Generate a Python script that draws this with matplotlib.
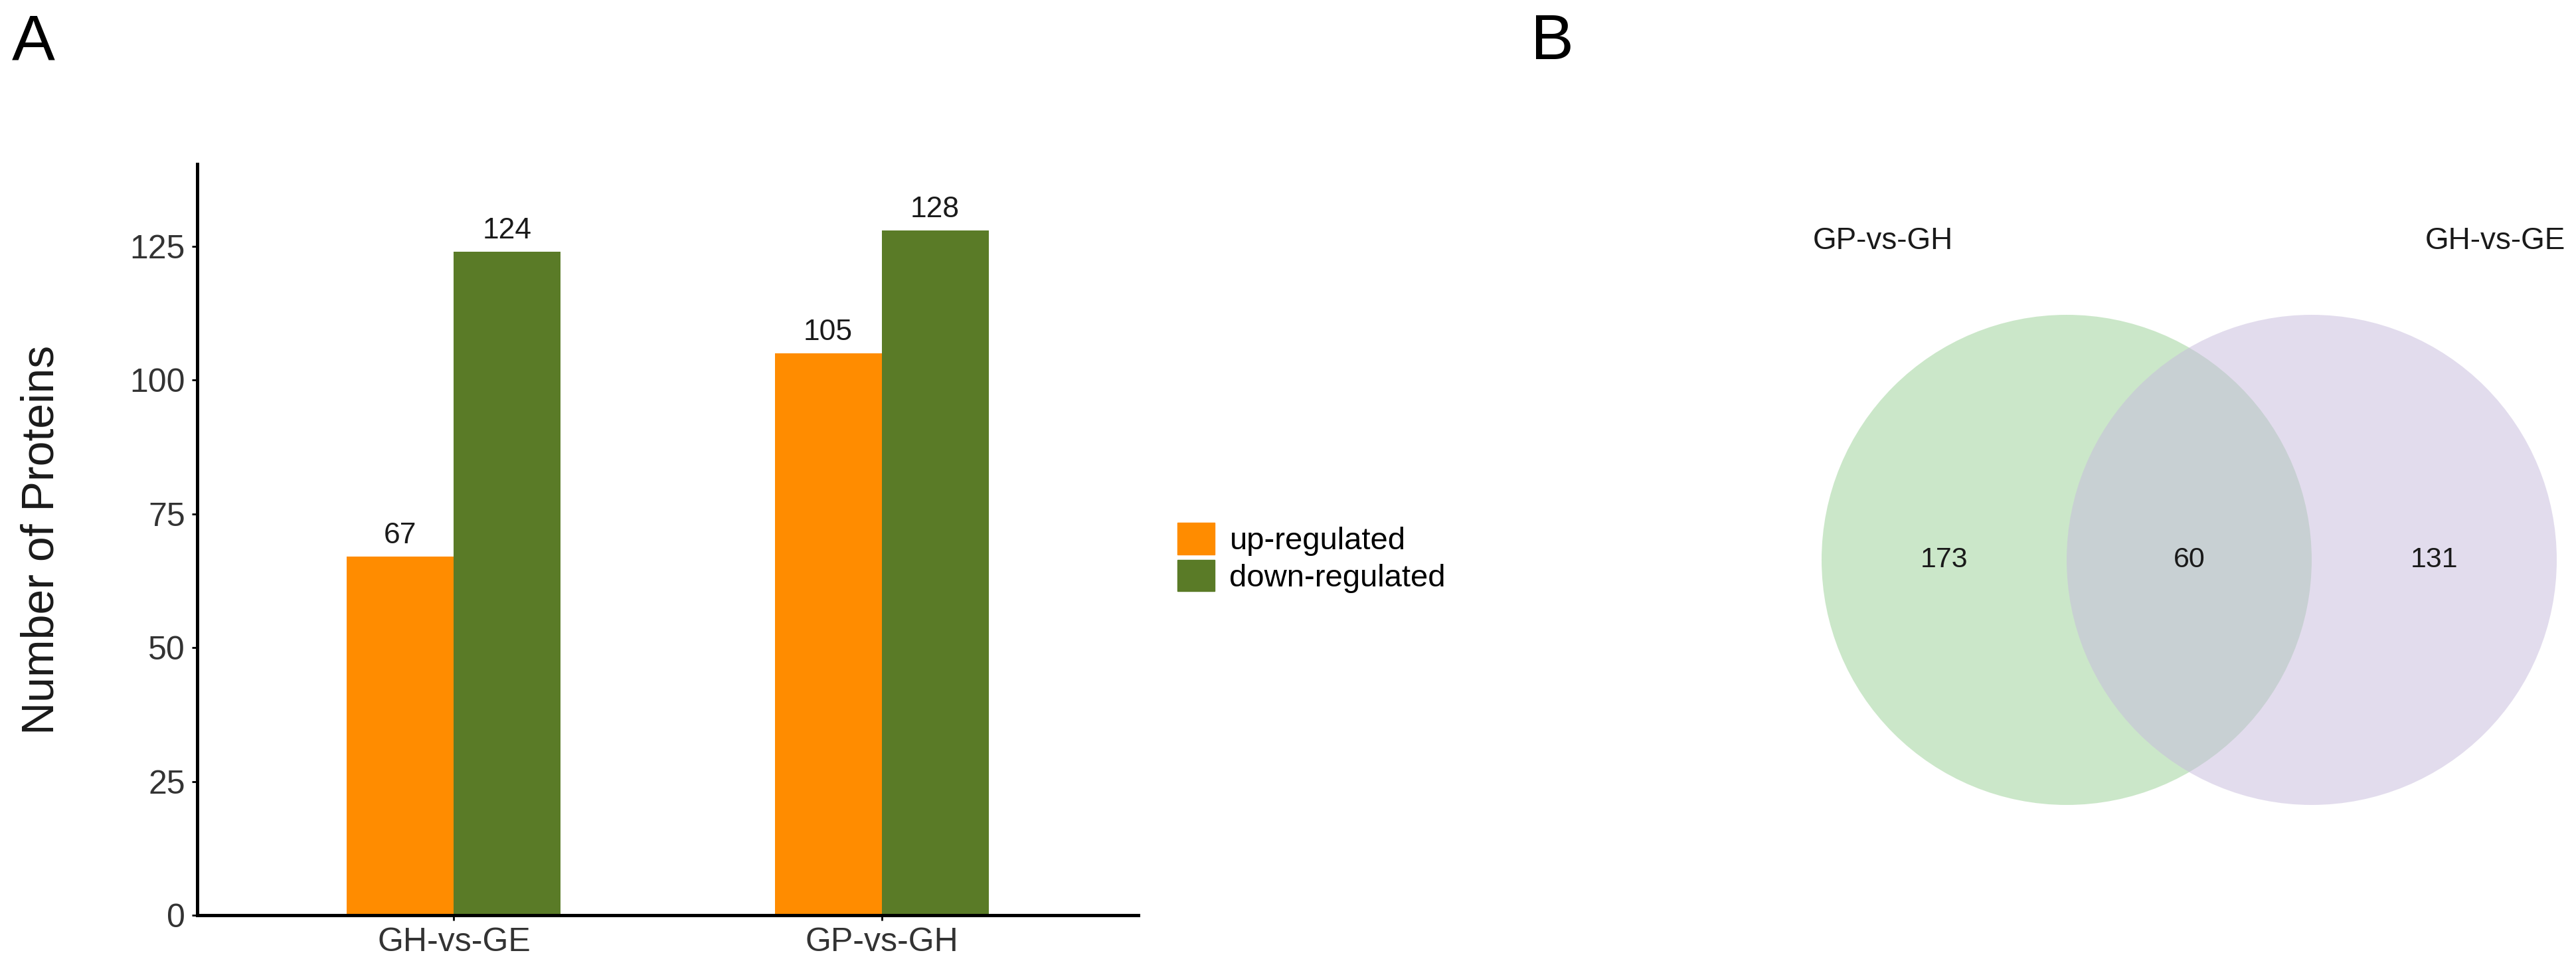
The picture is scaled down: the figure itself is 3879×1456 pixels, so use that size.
import matplotlib
matplotlib.use("Agg")
import matplotlib.pyplot as plt
import numpy as np
from matplotlib.patches import Circle, Patch

plt.rcParams['font.family'] = ['Liberation Sans', 'DejaVu Sans']

# data
comparisons = ['GH-vs-GE', 'GP-vs-GH']
up_counts = [67, 105]
down_counts = [124, 128]
yticks = [0, 25, 50, 75, 100, 125]

venn_sets = ['GP-vs-GH', 'GH-vs-GE']
venn_counts = [173, 60, 131]  # only left, both, only right

up_color = '#FF8C00'
down_color = '#5A7B27'
venn_colors = ['#99D195', '#C7BBDD']

W, H = 3879, 1456
fig = plt.figure(figsize=(W / 100, H / 100), dpi=100)

# ---- panel A: bar chart ----
ax = fig.add_axes([297 / W, 78 / H, (1714 - 297) / W, (1378 - 247) / H])
x = np.arange(1, len(comparisons) + 1)
bw = 0.25
b1 = ax.bar(x - bw / 2, up_counts, bw, color=up_color, label='up-regulated')
b2 = ax.bar(x + bw / 2, down_counts, bw, color=down_color, label='down-regulated')
for bars, vals in [(b1, up_counts), (b2, down_counts)]:
    for rect, v in zip(bars, vals):
        ax.annotate(str(v), (rect.get_x() + rect.get_width() / 2, v),
                    xytext=(0, 8), textcoords='offset points',
                    ha='center', va='bottom', fontsize=32, color='#1a1a1a')

ax.set_xlim(0.4, 2.6)
ax.set_ylim(0, 140.4)
ax.set_xticks(x)
ax.set_xticklabels(comparisons)
ax.set_yticks(yticks)
ax.tick_params(axis='both', labelsize=36, labelcolor='#333333', length=6,
               width=2, pad=7)
for s in ['top', 'right']:
    ax.spines[s].set_visible(False)
for s in ['left', 'bottom']:
    ax.spines[s].set_linewidth(3.6)
ax.set_ylabel('Number of Proteins', fontsize=49, color='#1a1a1a')
ax.yaxis.set_label_coords(-0.143, 0.5)

fig.legend(handles=[Patch(color=up_color, label='up-regulated'),
                    Patch(color=down_color, label='down-regulated')],
           loc='center left', bbox_to_anchor=(1773 / W, 1 - 840 / H),
           frameon=False, fontsize=34, handlelength=1.19, handleheight=1.17,
           handletextpad=0.47, labelspacing=0.12, borderpad=0, borderaxespad=0)

# ---- panel B: venn ----
r = 369.0
vx0 = 2600
axv = fig.add_axes([vx0 / W, 0, (W - vx0) / W, 1])
cx = (3112 - vx0) / r
cy = (1456 - 843) / r
axv.set_xlim(-cx, (W - vx0) / r - cx)
axv.set_ylim(-cy, H / r - cy)
axv.axis('off')
axv.add_patch(Circle((0, 0), 1, facecolor=venn_colors[0], edgecolor='none', alpha=0.5))
axv.add_patch(Circle((1, 0), 1, facecolor=venn_colors[1], edgecolor='none', alpha=0.5))
for xp, c in zip([-0.5, 0.5, 1.5], venn_counts):
    axv.text(xp, 0, str(c), ha='center', va='center', fontsize=31, color='#1a1a1a')
for xp, name in zip([-0.75, 1.75], venn_sets):
    axv.text(xp, 1.3, name, ha='center', va='center', fontsize=33, color='#1a1a1a')

# panel letters
fig.text(18 / W, 1 - 89 / H, 'A', fontsize=70, va='baseline', ha='left')
fig.text(2305 / W, 1 - 89 / H, 'B', fontsize=70, va='baseline', ha='left')

fig.savefig('out.png', dpi=100)
